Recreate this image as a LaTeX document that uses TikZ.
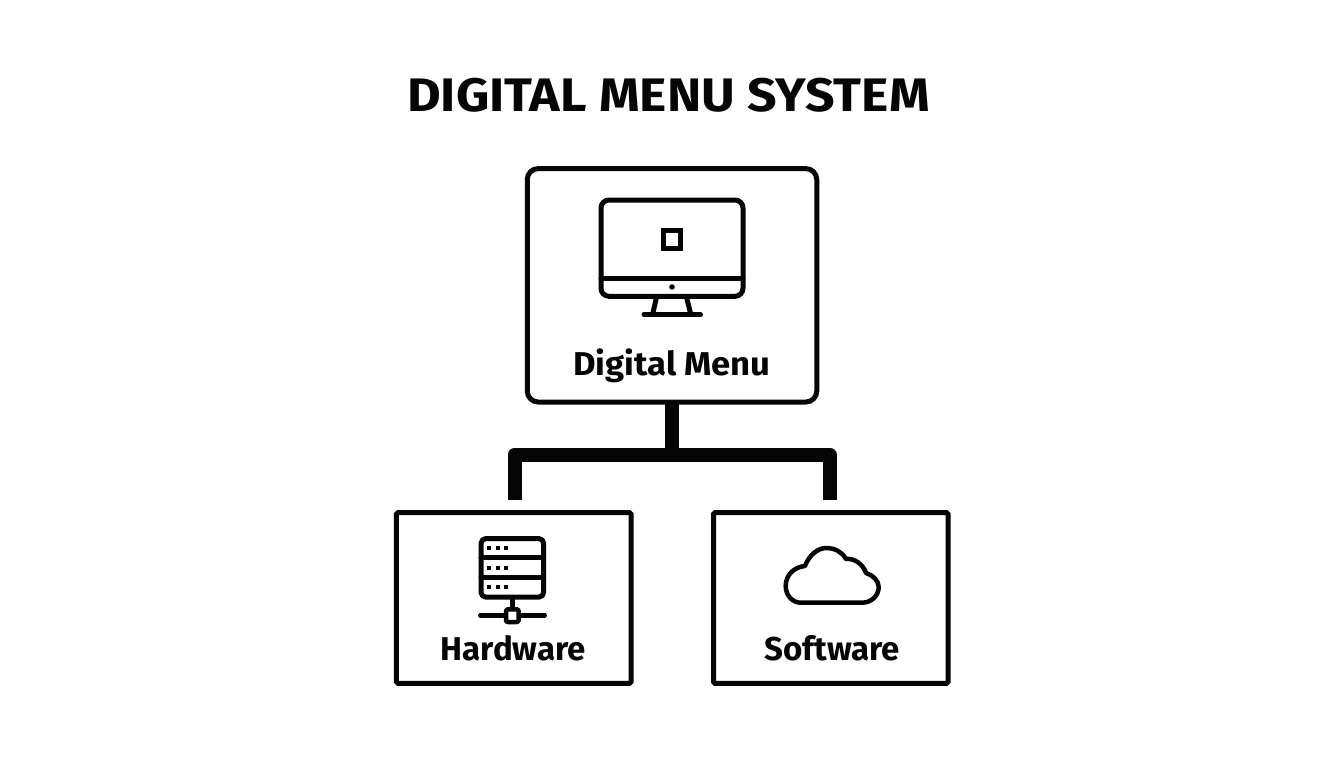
\documentclass[tikz,border=0pt]{standalone}
\usepackage{fontspec}
\setmainfont{Fira Sans}
\newfontfamily\titlefont[FakeStretch=1.10]{Fira Sans}
\newfontfamily\widefont[FakeStretch=1.05]{Fira Sans}
\tikzset{
  panel/.style={draw=ink,line width=5pt,rectangle,inner sep=0pt,outer sep=0pt},
  conn/.style={draw=ink,line width=14pt,line join=round,line cap=butt},
  icon/.style={draw=ink,line width=5pt,line join=round,line cap=round},
  lab/.style={text=ink,anchor=base,inner sep=0pt,font=\bfseries\fontsize{33}{36}\selectfont},
  ttl/.style={text=ink,anchor=base,inner sep=0pt,font=\titlefont\bfseries\fontsize{47}{52}\selectfont},
}
\definecolor{ink}{HTML}{050505}
\begin{document}
\begin{tikzpicture}[x=1pt,y=-1pt]
\useasboundingbox[fill=white] (0,0) rectangle (1344,768);
\node[ttl] (title) at (668.5,111) {DIGITAL MENU SYSTEM};
% boxes
\node[panel,rounded corners=11pt,minimum width=289.5pt,minimum height=233.5pt] (menu) at (672,285.3) {};
\node[panel,rounded corners=1.5pt,minimum width=234.7pt,minimum height=170.6pt] (hw) at (513.7,598) {};
\node[panel,rounded corners=1.5pt,minimum width=234.5pt,minimum height=170.6pt] (sw) at (830.8,598) {};
% labels
\node[lab,font=\widefont\bfseries\fontsize{33}{36}\selectfont] (menulab) at (672,375.5) {Digital Menu};
\node[lab] (hwlab) at (513.3,660.5) {Hardware};
\node[lab] (swlab) at (832.2,660.5) {Software};
% connectors
\coordinate (bus) at (672,454.5);
\coordinate (hwend) at (514.5,500);
\coordinate (swend) at (829.5,500);
\draw[conn] (hwend) |- (bus) -| (swend);
\draw[conn] (menu.south) -- (bus);
% monitor
\draw[icon,rounded corners=8pt] (601,200) rectangle (743,296.3);
\draw[icon] (601,278) -- (743,278);
\fill[ink] (672,287) circle (2.8pt);
\draw[icon,line cap=butt,line join=miter] (663.5,230.7) rectangle (680.8,248);
\draw[icon,line cap=butt] (656.3,298) -- (652.7,314);
\draw[icon,line cap=butt] (686.7,298) -- (690.7,314);
\draw[icon] (644,314.7) -- (700.5,314.7);
% server
\draw[icon,rounded corners=5pt] (481,538.5) rectangle (543.7,597.2);
\draw[icon] (481,557.8) -- (543.7,557.8);
\draw[icon] (481,577.5) -- (543.7,577.5);
\foreach \yy in {548,567.7,587.3}{
  \foreach \xx in {489.3,497.7,506.3}{
    \fill[ink] (\xx-2,\yy-2) rectangle (\xx+2,\yy+2);
  }
}
\draw[icon,line width=4.5pt,line cap=butt] (512.3,597) -- (512.3,608);
\draw[icon,line width=4.5pt] (480.3,615.3) -- (544.7,615.3);
\draw[icon,line width=4.5pt,rounded corners=2pt,fill=white] (506,609.3) rectangle (518.7,622);
% cloud
\draw[icon,line width=4.5pt] (801,602.7)
  .. controls (792,602.7) and (785.7,595) .. (785.7,586)
  .. controls (785.7,575) and (794,567) .. (805,566)
  .. controls (809,555) and (818,548) .. (826,548)
  .. controls (835,548) and (842,552) .. (846,559)
  .. controls (854,558) and (863,564) .. (866,573)
  .. controls (873,575) and (878.7,581) .. (878.7,587)
  .. controls (878.7,596) and (871,602.7) .. (862,602.7)
  -- cycle;
\end{tikzpicture}
\end{document}
